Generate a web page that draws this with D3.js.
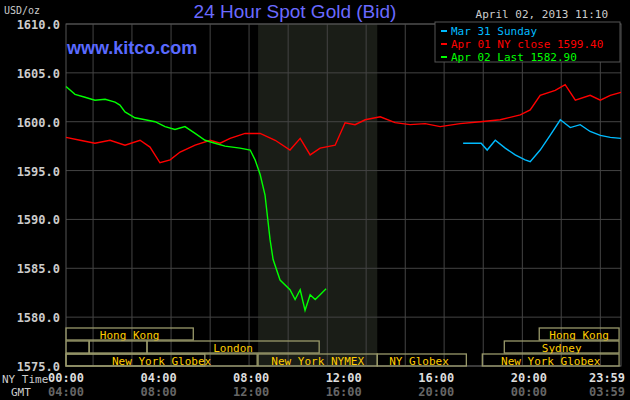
<!DOCTYPE html>
<html><head><meta charset="utf-8">
<script src="https://cdn.jsdelivr.net/npm/d3@7"></script>
<style>body{margin:0;background:#000}text{font-family:"DejaVu Sans Mono",monospace}</style>
</head><body><div id="chart"></div>
<script>
// series: [hour (NY time), price]
var greenHours = [0,0.39,0.82,1.25,1.69,2.12,2.33,2.55,2.98,3.42,3.85,4.28,4.71,5.14,5.58,6.01,6.44,6.87,7.52,7.96,8.17,8.39,8.60,8.82,8.95,9.25,9.68,9.90,10.12,10.33,10.55,10.77,10.98,11.24];
var greenVals = [1603.6,1602.8,1602.5,1602.2,1602.3,1602.0,1601.7,1601.0,1600.4,1600.2,1600.0,1599.5,1599.2,1599.5,1598.8,1598.1,1597.8,1597.5,1597.3,1597.1,1596.1,1594.6,1592.5,1587.9,1585.9,1583.8,1582.8,1581.8,1582.8,1580.7,1582.3,1581.8,1582.3,1582.9];
var redHours = [0,0.61,1.25,1.90,2.55,3.20,3.63,4.06,4.50,4.93,5.58,6.23,6.66,7.09,7.74,8.39,9.04,9.68,10.12,10.55,10.98,11.63,12.06,12.49,12.93,13.58,14.22,14.87,15.52,16.17,17.03,17.90,18.76,19.63,20.06,20.49,21.14,21.57,22.01,22.65,23.09,23.52,23.98];
var redVals = [1598.4,1598.1,1597.8,1598.1,1597.6,1598.1,1597.4,1595.8,1596.1,1596.9,1597.6,1598.1,1597.8,1598.3,1598.8,1598.8,1598.1,1597.1,1598.3,1596.6,1597.3,1597.6,1599.9,1599.7,1600.2,1600.5,1599.9,1599.7,1599.8,1599.5,1599.8,1600.0,1600.2,1600.7,1601.2,1602.7,1603.2,1603.8,1602.2,1602.7,1602.2,1602.7,1603.0];
var blueHours = [17.16,17.94,18.20,18.55,18.98,19.41,19.84,20.06,20.49,20.92,21.36,21.79,22.22,22.65,23.09,23.52,23.98];
var blueVals = [1597.8,1597.8,1597.1,1598.1,1597.3,1596.6,1596.1,1595.9,1597.1,1598.6,1600.2,1599.4,1599.7,1599.0,1598.6,1598.4,1598.3];
var yTicks = [1575,1580,1585,1590,1595,1600,1605,1610];
var nyLabels = ["00:00","04:00","08:00","12:00","16:00","20:00","23:59"];
var gmtLabels = ["04:00","08:00","12:00","16:00","20:00","00:00","03:59"];
var labelHours = [0,4,8,12,16,20,23.983];
var gridHours = [1.17,2.85,4.54,6.23,7.91,9.60,11.29,12.97,14.66,16.34,18.03,19.72,21.40,23.09];
// sessions: [row, start, end, label]
var sessions = [
  [0,0,5.5,"Hong Kong"],[0,20.45,23.9,"Hong Kong"],
  [1,0,1,""],[1,1,3.5,""],[1,3.5,10.94,"London"],[1,18.94,23.9,"Sydney"],
  [2,0,6,""],[2,0,8.26,"New York Globex"],[2,8.3,13.45,"New York NYMEX"],[2,13.45,17.3,"NY Globex"],[2,17.99,23.9,"New York Globex"]
];

var W = 630, H = 400;
var x = d3.scaleLinear().domain([0,23.983]).range([66,621]);
var y = d3.scaleLinear().domain([1575,1610]).range([366,24]);

var svg = d3.select("#chart").append("svg").attr("width",W).attr("height",H)
  .style("background","#000");

// NYMEX shaded area
svg.append("rect").attr("x",x(8.3)).attr("y",24).attr("width",x(13.45)-x(8.3)).attr("height",342)
  .attr("fill","#1a1d17");

svg.selectAll(".hg").data(yTicks).enter().append("line")
  .attr("x1",66).attr("x2",621).attr("y1",d=>y(d)).attr("y2",d=>y(d))
  .attr("stroke","#444").attr("stroke-width",1);
svg.selectAll(".vg").data(gridHours).enter().append("line")
  .attr("x1",d=>x(d)).attr("x2",d=>x(d)).attr("y1",24).attr("y2",366)
  .attr("stroke","#444").attr("stroke-width",1);
svg.append("rect").attr("x",66).attr("y",24).attr("width",555).attr("height",342)
  .attr("fill","none").attr("stroke","#555");

svg.selectAll(".yl").data(yTicks).enter().append("text")
  .attr("x",60).attr("y",d=>y(d)+5).attr("text-anchor","end")
  .attr("fill","#ccc").attr("font-size",12).attr("font-weight","bold")
  .text(d=>d.toFixed(1));

// sessions
var rowY = [328,341,354];
var sg = svg.selectAll(".ses").data(sessions).enter().append("g");
sg.append("rect").attr("x",d=>x(d[1])).attr("y",d=>rowY[d[0]])
  .attr("width",d=>x(d[2])-x(d[1])).attr("height",12)
  .attr("fill","none").attr("stroke","#99996a").attr("stroke-width",1.3);
sg.append("text").attr("x",d=>d[3]=="NY Globex"?x(d[1])+12:(x(d[1])+x(d[2]))/2)
  .attr("y",d=>rowY[d[0]]+10.5)
  .attr("text-anchor",d=>d[3]=="NY Globex"?"start":"middle")
  .attr("fill","#ffcc00").attr("font-size",11).text(d=>d[3]);

var line = d3.line().x(d=>x(d[0])).y(d=>y(d[1]));
function draw(hs,vs,c){
  svg.append("path").datum(hs.map((h,i)=>[h,vs[i]])).attr("d",line)
    .attr("fill","none").attr("stroke",c).attr("stroke-width",1.4);
}
draw(redHours,redVals,"#ff0000");
draw(blueHours,blueVals,"#00bbff");
draw(greenHours,greenVals,"#00ff00");

// x labels
svg.selectAll(".xl").data(nyLabels).enter().append("text")
  .attr("x",(d,i)=>Math.min(x(labelHours[i]),607)).attr("y",382).attr("text-anchor","middle")
  .attr("fill","#ddd").attr("font-size",12).attr("font-weight","bold").text(d=>d);
svg.selectAll(".gl").data(gmtLabels).enter().append("text")
  .attr("x",(d,i)=>Math.min(x(labelHours[i]),607)).attr("y",396).attr("text-anchor","middle")
  .attr("fill","#666").attr("font-size",12).attr("font-weight","bold").text(d=>d);
svg.append("text").attr("x",2).attr("y",383).attr("fill","#ccc").attr("font-size",11).text("NY Time");
svg.append("text").attr("x",11).attr("y",396).attr("fill","#ccc").attr("font-size",11).text("GMT");

svg.append("text").attr("x",4).attr("y",14).attr("fill","#ccc").attr("font-size",10).text("USD/oz");
svg.append("text").attr("x",295).attr("y",18).attr("text-anchor","middle")
  .attr("fill","#6a6aff").attr("font-size",19).style("font-family","Liberation Sans, Arial").text("24 Hour Spot Gold (Bid)");
svg.append("text").attr("x",67).attr("y",54).attr("fill","#5a6aff").attr("font-size",18)
  .attr("font-weight","bold").style("font-family","Liberation Sans, Arial").text("www.kitco.com");
svg.append("text").attr("x",608).attr("y",18).attr("text-anchor","end")
  .attr("fill","#ccc").attr("font-size",11).text("April 02, 2013 11:10");

// legend
svg.append("rect").attr("x",435).attr("y",22).attr("width",185).attr("height",40).attr("fill","#000").attr("stroke","#555");
var legend = [["Mar 31 Sunday","#00bbff"],["Apr 01 NY close 1599.40","#ff0000"],["Apr 02 Last 1582.90","#00ff00"]];
var lg = svg.selectAll(".lg").data(legend).enter().append("g");
lg.append("line").attr("x1",441).attr("x2",447).attr("y1",(d,i)=>31+i*13).attr("y2",(d,i)=>31+i*13)
  .attr("stroke",d=>d[1]).attr("stroke-width",2);
lg.append("text").attr("x",451).attr("y",(d,i)=>35+i*13).attr("fill",d=>d[1]).attr("font-size",11).text(d=>d[0]);
</script></body></html>
